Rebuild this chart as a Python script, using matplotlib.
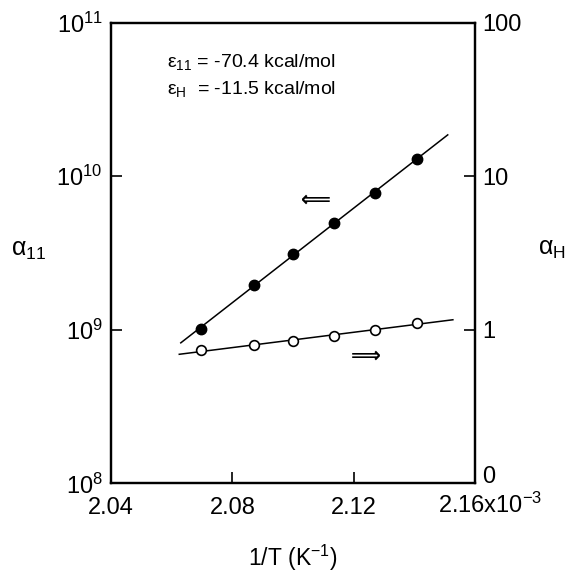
import numpy as np
import matplotlib
matplotlib.use('Agg')
import matplotlib.pyplot as plt
from matplotlib.ticker import NullLocator
import matplotlib.transforms as mtransforms

plt.rcParams['font.family'] = ['Liberation Sans', 'DejaVu Sans']
plt.rcParams['mathtext.fontset'] = 'custom'
plt.rcParams['mathtext.rm'] = 'Liberation Sans'
plt.rcParams['mathtext.it'] = 'Liberation Sans'
plt.rcParams['mathtext.default'] = 'regular'

# 1/T values (x10^-3 K^-1)
inv_T = [2.0697, 2.0872, 2.1001, 2.1136, 2.1270, 2.1408]
alpha_11 = [1.02e9, 1.97e9, 3.13e9, 4.95e9, 7.83e9, 1.29e10]
alpha_H = [0.736, 0.80, 0.84, 0.916, 1.00, 1.11]

fit_range_11 = [2.063, 2.151]
fit_range_H = [2.0625, 2.1527]

x_ticks = [2.04, 2.08, 2.12, 2.16]
x_labels = ['2.04', '2.08', '2.12', '']
left_ticks = [1e8, 1e9, 1e10, 1e11]
left_labels = ['$10^{8}$', '$10^{9}$', '$10^{10}$', '$10^{11}$']
right_ticks = [0.1, 1, 10, 100]
right_labels = ['0', '1', '10', '100']

fig = plt.figure(figsize=(5.67, 5.74), dpi=100)
ax = fig.add_axes([0.1958, 0.1577, 0.642, 0.803])
ax2 = ax.twinx()

# fits on log scale
p11 = np.polyfit(inv_T, np.log10(alpha_11), 1)
pH = np.polyfit(inv_T, np.log10(alpha_H), 1)
xf11 = np.array(fit_range_11)
xfH = np.array(fit_range_H)

ax.plot(xf11, 10 ** np.polyval(p11, xf11), color='black', lw=1.1)
ax.plot(inv_T, alpha_11, 'o', color='black', ms=7.5)
ax2.plot(xfH, 10 ** np.polyval(pH, xfH), color='black', lw=1.1)
ax2.plot(inv_T, alpha_H, 'o', mfc='white', mec='black', mew=1.2, ms=7)

ax.set_yscale('log')
ax2.set_yscale('log')
ax.set_xlim(2.04, 2.16)
ax.set_ylim(1e8, 1e11)
ax2.set_ylim(0.1, 100)

ax.set_xticks(x_ticks)
ax.set_xticklabels(x_labels)
ax.set_yticks(left_ticks)
ax.set_yticklabels(left_labels)
ax2.set_yticks(right_ticks)
ax2.set_yticklabels(right_labels)
for a in (ax, ax2):
    a.yaxis.set_minor_locator(NullLocator())
    a.xaxis.set_minor_locator(NullLocator())

ax.tick_params(axis='x', direction='in', length=8, width=1.2, labelsize=17, pad=10, top=False)
ax.tick_params(axis='y', direction='in', length=8, width=1.2, labelsize=17, pad=6)
ax2.tick_params(axis='y', direction='in', length=8, width=1.2, labelsize=17, pad=5)
for a in (ax, ax2):
    for s in a.spines.values():
        s.set_linewidth(1.6)
ax2.get_yticklabels()[0].set_va('baseline')

# last x tick label with exponent
off = mtransforms.offset_copy(ax.get_xaxis_transform(), fig=fig, x=-37, y=-9, units='dots')
ax.text(2.16, 0, '2.16x10$^{-3}$', transform=off, ha='left', va='top', fontsize=17)

ax.set_xlabel('1/T (K$^{-1}$)', fontsize=16.5, labelpad=17)

fig.text(0.051, 0.565, r'$α_{11}$', fontsize=18, ha='center', va='center')
fig.text(0.973, 0.567, r'$α_{H}$', fontsize=18, ha='center', va='center')

ax.text(0.155, 0.915, r'$ε_{11}$ = -70.4 kcal/mol', transform=ax.transAxes, fontsize=14, va='center')
ax.text(0.155, 0.855, r'$ε_{H}$  = -11.5 kcal/mol', transform=ax.transAxes, fontsize=14, va='center')

ax.text(2.1076, 10 ** 9.847, '⟸', fontsize=15, fontweight='bold', ha='center', va='center', family=['DejaVu Sans'])
ax2.text(2.1241, 10 ** -0.168, '⟹', fontsize=15, fontweight='bold', ha='center', va='center', family=['DejaVu Sans'])

fig.savefig('out.png', dpi=100)
